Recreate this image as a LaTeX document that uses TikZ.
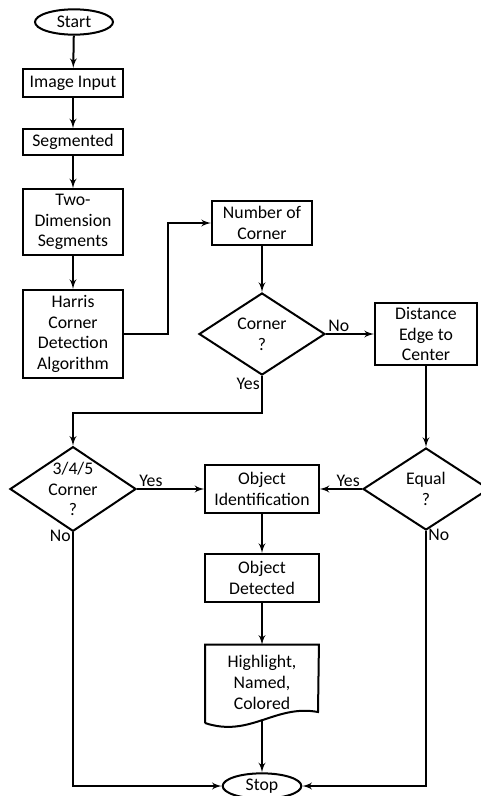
\documentclass[tikz,border=0pt]{standalone}
\usepackage{fontspec}
\setmainfont{Carlito}
\usetikzlibrary{shapes, arrows}

\begin{document}
\begin{tikzpicture}[auto,>=latex', x=0.75pt, y=-0.75pt, font=\fontsize{13.3}{15.6}\selectfont]

\tikzstyle{block} = [draw, shape=rectangle, align=center, minimum width=75pt, inner sep=1pt, line width=1.5pt]
\tikzstyle{decision} = [draw, shape=diamond, align=center, minimum width=94.5pt, minimum height=61.5pt, inner sep=-3.5pt, line width=1.5pt]
\tikzstyle{terminal} = [draw, shape=ellipse, minimum width=58.5pt, minimum height=19pt, inner sep=0pt, line width=1.5pt]
\tikzstyle{doc} = [shape=rectangle, align=center, minimum width=85pt, minimum height=56.25pt, inner sep=0pt]
\tikzstyle{answer} = [inner sep=1pt]

\useasboundingbox (0,0) rectangle (480,796);

% left column
\node[terminal] at (74,22) (start) {Start};
\node[block, minimum height=21pt] at (73,83) (input) {Image Input};
\node[block, minimum height=19pt] at (73,142) (seg) {Segmented};
\node[block, minimum height=49pt] at (73,222) (twod) {Two-\\Dimension\\Segments};
\node[block, minimum height=66pt] at (73,334) (harris) {Harris\\Corner\\Detection\\Algorithm};
\node[decision] at (73,489) (c345) {3/4/5\\Corner\\?};

% middle column
\node[block, minimum height=33pt] at (262,223) (noc) {Number of\\Corner};
\node[decision] at (262,334) (corner) {Corner\\?};
\node[block, minimum width=85pt, minimum height=36pt] at (262,489) (objid) {Object\\Identification};
\node[block, minimum width=85pt, minimum height=36pt] at (262,578) (objdet) {Object\\Detected};
\node[doc] at (262,682.5) (hl) {Highlight,\\Named,\\Colored};
\node[terminal, minimum width=59pt] at (262,786) (stop) {Stop};

% right column
\node[block, minimum width=76.5pt, minimum height=46.5pt] at (426,334) (dist) {Distance\\Edge to\\Center};
\node[decision] at (426,489) (equal) {Equal\\?};

% document shape
\draw[line width=1.5pt] (205,723) -- (hl.north west) -- (hl.north east) -- (318,712) .. controls (275,704) and (250,738) .. (205,723);

\begin{scope}[line width=1.5pt]
     \draw[->] (start) -- (input);
     \draw[->] (input) -- (seg);
     \draw[->] (seg) -- (twod);
     \draw[->] (twod) -- (harris);
     \draw[->] (harris.east) -- ++(44,0) |- (noc.west);
     \draw[->] (noc) -- (corner);
     \draw[->] (corner.east) node[answer, above right] {No} -- (dist.west);
     \draw[->] (corner.south) node[answer, below left] {Yes} -- ++(0,37) -| (c345.north);
     \draw[->] (dist) -- (equal);
     \draw[->] (c345.east) node[answer, above right] {Yes} -- (objid.west);
     \draw[->] (equal.west) node[answer, above left] {Yes} -- (objid.east);
     \draw[->] (objid) -- (objdet);
     \draw[->] (objdet) -- (hl.north);
     \draw[->] (hl.south) -- (stop);
     \draw[->] (c345.south) node[answer, left, yshift=-3pt] {No} |- (stop.west);
     \draw[->] (equal.south) node[answer, right, yshift=-3pt] {No} |- (stop.east);
\end{scope}
\end{tikzpicture}
\end{document}
